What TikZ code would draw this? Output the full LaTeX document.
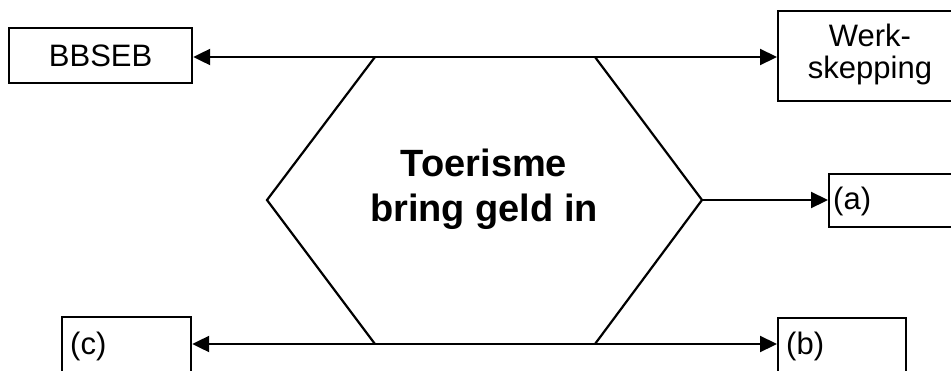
\documentclass[tikz,border=0pt]{standalone}
\usepackage{fontspec}
\setmainfont{Liberation Sans}
\usetikzlibrary{arrows.meta}
\begin{document}
\begin{tikzpicture}[x=1pt,y=-1pt,
  box/.style={draw, line width=2.2pt, anchor=north west, inner sep=0pt},
  lbl/.style={font=\fontsize{31}{32}\selectfont, inner sep=0pt},
  conn/.style={line width=2.2pt, {Triangle[length=17pt,width=16pt]}-{Triangle[length=17pt,width=16pt]}},
  conn1/.style={line width=2.2pt, -{Triangle[length=17pt,width=16pt]}},
  hex/.style={line width=2.2pt, line join=miter}]
\useasboundingbox (0,0) rectangle (951,370);
\clip (0,0) rectangle (951,370);
% hexagon
\coordinate (tl) at (375,57);
\coordinate (tr) at (595,57);
\coordinate (r) at (702,200);
\coordinate (br) at (595,344);
\coordinate (bl) at (375,344);
\coordinate (l) at (267,200);
\draw[hex] (tl) -- (l) -- (bl) (br) -- (r) -- (tr);
\node[font=\fontsize{38}{45}\selectfont\bfseries, align=center] (centre) at (484,189) {Toerisme\\bring geld in};
% boxes
\node[box, minimum width=183pt, minimum height=55pt] (bbseb) at (8,27) {};
\node[lbl] (bbsebt) at (bbseb.center) {BBSEB};
\node[box, minimum width=190pt, minimum height=90pt] (werk) at (777,10) {};
\node[lbl, align=center] (werkt) at (870,54) {Werk-\\skepping};
\node[box, minimum width=140pt, minimum height=53pt] (abox) at (828,173) {};
\node[lbl, anchor=west] (at) at (833,201) {(a)};
\node[box, minimum width=129pt, minimum height=80pt] (cbox) at (61,316) {};
\node[lbl, anchor=west] (ct) at (70,346) {(c)};
\node[box, minimum width=128pt, minimum height=80pt] (bbox) at (777,317) {};
\node[lbl, anchor=west] (bt) at (786,346) {(b)};
% connectors
\draw[conn] (bbseb.east |- tl) -- (werk.west |- tl);
\draw[conn1] (r) -- (abox.west |- r);
\draw[conn] (cbox.east |- bl) -- (bbox.west |- bl);
\end{tikzpicture}
\end{document}
